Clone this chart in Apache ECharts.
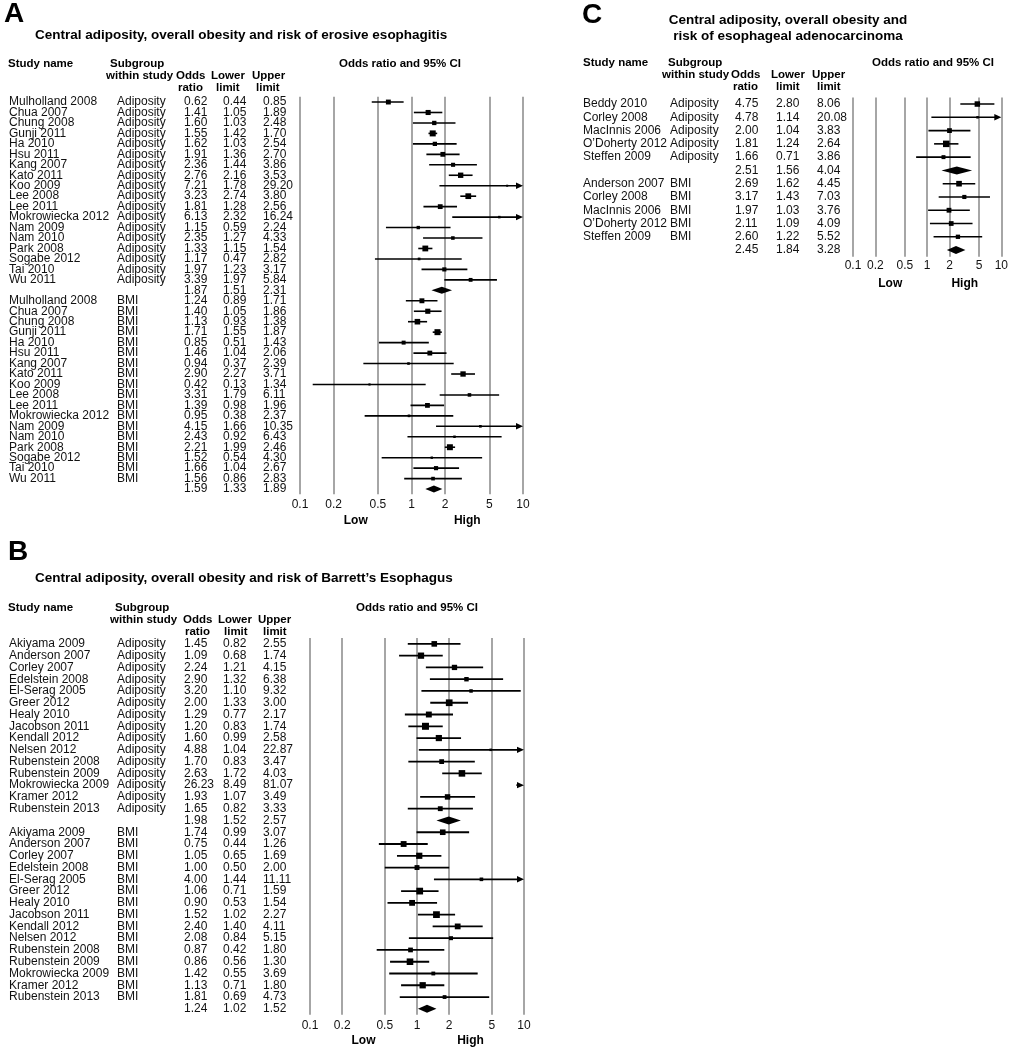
<!DOCTYPE html>
<html><head><meta charset="utf-8">
<script src="https://cdn.jsdelivr.net/npm/echarts@6/dist/echarts.min.js"></script>
<style>html,body{margin:0;padding:0;background:#fff}#c{width:1011px;height:1050px}</style>
</head><body><div id="c"></div><script>
// ---------- DATA ----------
// Panel A: erosive esophagitis
const A_names = ['Mulholland 2008','Chua 2007','Chung 2008','Gunji 2011','Ha 2010','Hsu 2011','Kang 2007','Kato 2011','Koo 2009','Lee 2008','Lee 2011','Mokrowiecka 2012','Nam 2009','Nam 2010','Park 2008','Sogabe 2012','Tai 2010','Wu 2011'];
const A_adip_or = [0.62,1.41,1.60,1.55,1.62,1.91,2.36,2.76,7.21,3.23,1.81,6.13,1.15,2.35,1.33,1.17,1.97,3.39];
const A_adip_lo = [0.44,1.05,1.03,1.42,1.03,1.36,1.44,2.16,1.78,2.74,1.28,2.32,0.59,1.27,1.15,0.47,1.23,1.97];
const A_adip_hi = [0.85,1.89,2.48,1.70,2.54,2.70,3.86,3.53,29.20,3.80,2.56,16.24,2.24,4.33,1.54,2.82,3.17,5.84];
const A_adip_pooled = [1.87,1.51,2.31];
const A_bmi_or = [1.24,1.40,1.13,1.71,0.85,1.46,0.94,2.90,0.42,3.31,1.39,0.95,4.15,2.43,2.21,1.52,1.66,1.56];
const A_bmi_lo = [0.89,1.05,0.93,1.55,0.51,1.04,0.37,2.27,0.13,1.79,0.98,0.38,1.66,0.92,1.99,0.54,1.04,0.86];
const A_bmi_hi = [1.71,1.86,1.38,1.87,1.43,2.06,2.39,3.71,1.34,6.11,1.96,2.37,10.35,6.43,2.46,4.30,2.67,2.83];
const A_bmi_pooled = [1.59,1.33,1.89];

// Panel B: Barrett's Esophagus
const B_names = ['Akiyama 2009','Anderson 2007','Corley 2007','Edelstein 2008','El-Serag 2005','Greer 2012','Healy 2010','Jacobson 2011','Kendall 2012','Nelsen 2012','Rubenstein 2008','Rubenstein 2009','Mokrowiecka 2009','Kramer 2012','Rubenstein 2013'];
const B_adip_or = [1.45,1.09,2.24,2.90,3.20,2.00,1.29,1.20,1.60,4.88,1.70,2.63,26.23,1.93,1.65];
const B_adip_lo = [0.82,0.68,1.21,1.32,1.10,1.33,0.77,0.83,0.99,1.04,0.83,1.72,8.49,1.07,0.82];
const B_adip_hi = [2.55,1.74,4.15,6.38,9.32,3.00,2.17,1.74,2.58,22.87,3.47,4.03,81.07,3.49,3.33];
const B_adip_pooled = [1.98,1.52,2.57];
const B_bmi_or = [1.74,0.75,1.05,1.00,4.00,1.06,0.90,1.52,2.40,2.08,0.87,0.86,1.42,1.13,1.81];
const B_bmi_lo = [0.99,0.44,0.65,0.50,1.44,0.71,0.53,1.02,1.40,0.84,0.42,0.56,0.55,0.71,0.69];
const B_bmi_hi = [3.07,1.26,1.69,2.00,11.11,1.59,1.54,2.27,4.11,5.15,1.80,1.30,3.69,1.80,4.73];
const B_bmi_pooled = [1.24,1.02,1.52];

// Panel C: esophageal adenocarcinoma
const C_adip_names = ['Beddy 2010','Corley 2008','MacInnis 2006',"O\u2019Doherty 2012",'Steffen 2009'];
const C_adip_or = [4.75,4.78,2.00,1.81,1.66];
const C_adip_lo = [2.80,1.14,1.04,1.24,0.71];
const C_adip_hi = [8.06,20.08,3.83,2.64,3.86];
const C_adip_pooled = [2.51,1.56,4.04];
const C_bmi_names = ['Anderson 2007','Corley 2008','MacInnis 2006',"O\u2019Doherty 2012",'Steffen 2009'];
const C_bmi_or = [2.69,3.17,1.97,2.11,2.60];
const C_bmi_lo = [1.62,1.43,1.03,1.09,1.22];
const C_bmi_hi = [4.45,7.03,3.76,4.09,5.52];
const C_bmi_pooled = [2.45,1.84,3.28];

const tickValues = [0.1,0.2,0.5,1,2,5,10];
const tickText = ['0.1','0.2','0.5','1','2','5','10'];

// ---------- BUILD ----------
const FF = '"Liberation Sans", Arial, Helvetica, sans-serif';
const TAU2 = 0.05;

function makeRows(sets){
  const rows = [];
  sets.forEach(s => {
    s.names.forEach((n,i) => rows.push({name:n, grp:s.label, or:s.or[i], lo:s.lo[i], hi:s.hi[i], pooled:0}));
    rows.push({name:'', grp:'', or:s.pooled[0], lo:s.pooled[1], hi:s.pooled[2], pooled:1});
  });
  return rows;
}
const rowsA = makeRows([
  {names:A_names,label:'Adiposity',or:A_adip_or,lo:A_adip_lo,hi:A_adip_hi,pooled:A_adip_pooled},
  {names:A_names,label:'BMI',or:A_bmi_or,lo:A_bmi_lo,hi:A_bmi_hi,pooled:A_bmi_pooled}]);
const rowsB = makeRows([
  {names:B_names,label:'Adiposity',or:B_adip_or,lo:B_adip_lo,hi:B_adip_hi,pooled:B_adip_pooled},
  {names:B_names,label:'BMI',or:B_bmi_or,lo:B_bmi_lo,hi:B_bmi_hi,pooled:B_bmi_pooled}]);
const rowsC = makeRows([
  {names:C_adip_names,label:'Adiposity',or:C_adip_or,lo:C_adip_lo,hi:C_adip_hi,pooled:C_adip_pooled},
  {names:C_bmi_names,label:'BMI',or:C_bmi_or,lo:C_bmi_lo,hi:C_bmi_hi,pooled:C_bmi_pooled}]);

const panels = [
  {rows:rowsA, grid:{left:300,top:96.8,width:223,height:397.5}, cols:[9,117,184,223,263], maxSize:6, dH:3.5, lw:1.6, lblMargin:4, lowHighY:521},
  {rows:rowsB, grid:{left:310,top:638,width:214,height:376.7}, cols:[9,117,184,223,263], maxSize:7, dH:4, lw:1.8, lblMargin:5, lowHighY:1041},
  {rows:rowsC, grid:{left:853,top:97.4,width:149,height:159.3}, cols:[583,670,735,776,817], maxSize:6.5, dH:4, lw:1.6, lblMargin:3, lowHighY:284}
];

const grids=[], xAxes=[], yAxes=[], series=[], graphics=[];
const fmt = v => v.toFixed(2);

panels.forEach((p, gi) => {
  grids.push(Object.assign({containLabel:false}, p.grid));
  xAxes.push({type:'log', logBase:10, min:0.1, max:10, gridIndex:gi,
    axisLine:{show:false}, axisTick:{show:false}, splitLine:{show:false},
    axisLabel:{show:true, customValues:tickValues, margin:p.lblMargin, fontSize:12, color:'#111', fontFamily:FF,
      formatter: v => tickText[tickValues.findIndex(t => Math.abs(t - v) < 1e-6)] ?? String(v)}});
  const mainY = yAxes.length;
  yAxes.push({type:'category', gridIndex:gi, inverse:true, show:false, data:p.rows.map((r,i)=>String(i))});
  const colData = [
    p.rows.map(r=>r.name), p.rows.map(r=>r.grp),
    p.rows.map(r=>fmt(r.or)), p.rows.map(r=>fmt(r.lo)), p.rows.map(r=>fmt(r.hi))];
  colData.forEach((d, ci) => {
    yAxes.push({type:'category', gridIndex:gi, inverse:true, position:'left', offset:p.grid.left - p.cols[ci], data:d,
      axisLine:{show:false}, axisTick:{show:false}, splitLine:{show:false},
      axisLabel:{interval:0, align:'left', margin:0, fontSize:12, color:'#111', fontFamily:FF}});
  });
  // weights (inverse variance, random-effects style)
  const ws = p.rows.map(r => { const se=(Math.log(r.hi)-Math.log(r.lo))/3.92; return 1/(se*se+TAU2); });
  const wmax = Math.max(...p.rows.map((r,i)=> r.pooled?0:ws[i]));
  const data = p.rows.map((r,i)=>[r.or, r.lo, r.hi, i, r.pooled, Math.max(2, p.maxSize*Math.sqrt(ws[i]/wmax))]);
  series.push({type:'scatter', xAxisIndex:gi, yAxisIndex:mainY, data:[], z:1, silent:true,
    markLine:{z:1, silent:true, symbol:['none','none'], label:{show:false}, animation:false,
      lineStyle:{color:'#a6a6a6', width:2, type:'solid'}, data: tickValues.map(v=>({xAxis:v}))}});
  const dH = p.dH, lw = p.lw;
  series.push({type:'custom', xAxisIndex:gi, yAxisIndex:mainY, z:10, clip:false, silent:true,
    encode:{x:[0,1,2], y:3}, data,
    renderItem:(params, api) => {
      const or=api.value(0), lo=api.value(1), hi=api.value(2), row=api.value(3), pooled=api.value(4), sz=api.value(5);
      const cx = v => api.coord([Math.min(10, Math.max(0.1, v)), row])[0];
      const y = api.coord([1, row])[1];
      const ch = [];
      if (pooled) {
        ch.push({type:'polygon', shape:{points:[[cx(lo),y],[cx(or),y-dH],[cx(hi),y],[cx(or),y+dH]]}, style:{fill:'#000'}});
      } else {
        const x1 = cx(lo), x2 = cx(hi);
        const over = hi > 10;
        ch.push({type:'line', shape:{x1:x1, y1:y, x2: over ? x2-5 : x2, y2:y}, style:{stroke:'#000', lineWidth:lw}});
        if (over) ch.push({type:'polygon', shape:{points:[[x2,y],[x2-7,y-3.2],[x2-7,y+3.2]]}, style:{fill:'#000'}});
        if (or <= 10) {
          const c = cx(or);
          ch.push({type:'rect', shape:{x:c-sz/2, y:y-sz/2, width:sz, height:sz}, style:{fill:'#000'}});
        }
      }
      return {type:'group', children:ch};
    }});
  // Low / High
  const L = p.grid.left, W = p.grid.width;
  graphics.push(txt('Low', L + W/4, p.lowHighY, 12, 'bold', 'center'));
  graphics.push(txt('High', L + 3*W/4, p.lowHighY, 12, 'bold', 'center'));
});

function txt(t, x, y, size, weight, align){
  return {type:'text', x:x, y:y, silent:true, style:{text:t, fontSize:size, fontWeight:weight||'normal', fontFamily:FF, fill:'#000', align:align||'left', verticalAlign:'middle'}};
}

// panel letters and titles
graphics.push(txt('A', 4, 14, 28, 'bold'));
graphics.push(txt('Central adiposity, overall obesity and risk of erosive esophagitis', 35, 35, 13.5, 'bold'));
graphics.push(txt('Study name', 8, 64, 11.5, 'bold'));
graphics.push(txt('Subgroup', 110, 64, 11.5, 'bold'));
graphics.push(txt('within study', 106, 76, 11.5, 'bold'));
graphics.push(txt('Odds', 176, 76, 11.5, 'bold'));
graphics.push(txt('ratio', 178, 88, 11.5, 'bold'));
graphics.push(txt('Lower', 211, 76, 11.5, 'bold'));
graphics.push(txt('limit', 216, 88, 11.5, 'bold'));
graphics.push(txt('Upper', 252, 76, 11.5, 'bold'));
graphics.push(txt('limit', 256, 88, 11.5, 'bold'));
graphics.push(txt('Odds ratio and 95% CI', 400, 64, 11.5, 'bold', 'center'));

graphics.push(txt('B', 8, 552, 28, 'bold'));
graphics.push(txt('Central adiposity, overall obesity and risk of Barrett\u2019s Esophagus', 35, 578, 13.5, 'bold'));
graphics.push(txt('Study name', 8, 608, 11.5, 'bold'));
graphics.push(txt('Subgroup', 115, 608, 11.5, 'bold'));
graphics.push(txt('within study', 110, 620, 11.5, 'bold'));
graphics.push(txt('Odds', 183, 620, 11.5, 'bold'));
graphics.push(txt('ratio', 185, 632, 11.5, 'bold'));
graphics.push(txt('Lower', 218, 620, 11.5, 'bold'));
graphics.push(txt('limit', 224, 632, 11.5, 'bold'));
graphics.push(txt('Upper', 258, 620, 11.5, 'bold'));
graphics.push(txt('limit', 263, 632, 11.5, 'bold'));
graphics.push(txt('Odds ratio and 95% CI', 417, 608, 11.5, 'bold', 'center'));

graphics.push(txt('C', 582, 15, 28, 'bold'));
graphics.push(txt('Central adiposity, overall obesity and', 788, 20, 13.5, 'bold', 'center'));
graphics.push(txt('risk of esophageal adenocarcinoma', 788, 36, 13.5, 'bold', 'center'));
graphics.push(txt('Study name', 583, 63, 11.5, 'bold'));
graphics.push(txt('Subgroup', 668, 63, 11.5, 'bold'));
graphics.push(txt('within study', 662, 75, 11.5, 'bold'));
graphics.push(txt('Odds', 731, 75, 11.5, 'bold'));
graphics.push(txt('ratio', 733, 87, 11.5, 'bold'));
graphics.push(txt('Lower', 771, 75, 11.5, 'bold'));
graphics.push(txt('limit', 776, 87, 11.5, 'bold'));
graphics.push(txt('Upper', 812, 75, 11.5, 'bold'));
graphics.push(txt('limit', 817, 87, 11.5, 'bold'));
graphics.push(txt('Odds ratio and 95% CI', 933, 63, 11.5, 'bold', 'center'));

const chart = echarts.init(document.getElementById('c'), null, {renderer:'canvas'});
chart.setOption({
  animation:false, backgroundColor:'#fff',
  grid:grids, xAxis:xAxes, yAxis:yAxes, series:series, graphic:{elements:graphics}
});
</script></body></html>
